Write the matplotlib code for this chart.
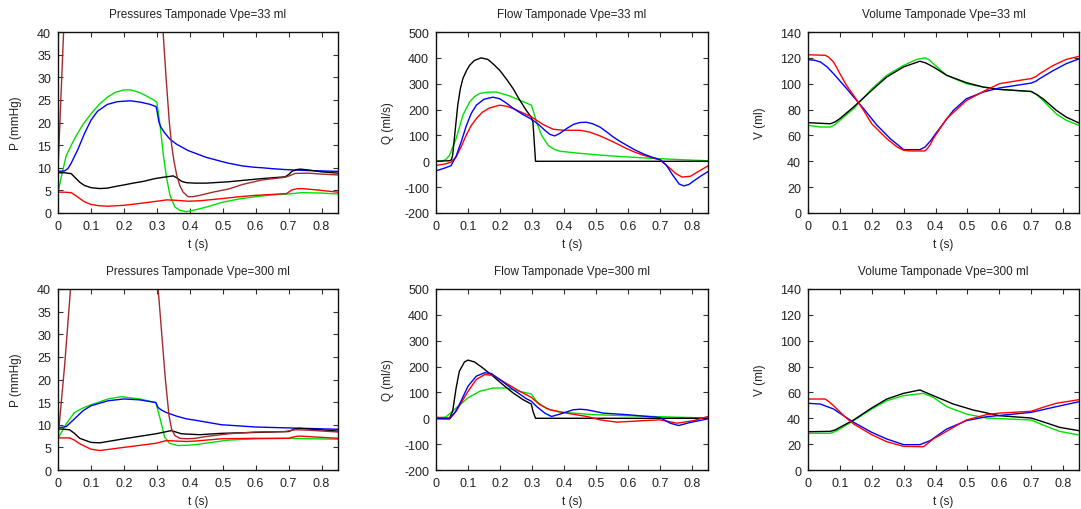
import matplotlib
matplotlib.use("Agg")
import matplotlib.pyplot as plt

plt.rcParams['font.family'] = ['Liberation Sans', 'DejaVu Sans']
plt.rcParams['axes.unicode_minus'] = False

# ---------------- data ----------------
t_ticks = [0, 0.1, 0.2, 0.3, 0.4, 0.5, 0.6, 0.7, 0.8]
t_tick_labels = ["0", "0.1", "0.2", "0.3", "0.4", "0.5", "0.6", "0.7", "0.8"]
p_ticks = [0, 5, 10, 15, 20, 25, 30, 35, 40]
q_ticks = [-200, -100, 0, 100, 200, 300, 400, 500]
v_ticks = [0, 20, 40, 60, 80, 100, 120, 140]

titles = ["Pressures Tamponade Vpe=33 ml", "Flow Tamponade Vpe=33 ml", "Volume Tamponade Vpe=33 ml",
          "Pressures Tamponade Vpe=300 ml", "Flow Tamponade Vpe=300 ml", "Volume Tamponade Vpe=300 ml"]
ylabels = ["P (mmHg)", "Q (ml/s)", "V (ml)"]

# ---- Pressures, Vpe = 33 ml ----
p33_brown_t = [0, 0.008, 0.017, 0.03, 0.06, 0.1, 0.15, 0.2, 0.25, 0.29, 0.305, 0.319, 0.328, 0.338, 0.345, 0.352,
               0.36, 0.37, 0.38, 0.395, 0.41, 0.43, 0.47, 0.518, 0.56, 0.619, 0.69, 0.705, 0.72, 0.76, 0.8, 0.85]
p33_brown_v = [9.5, 24, 40, 60, 90, 110, 118, 116, 105, 80, 58, 40, 30, 20, 15, 11.5,
               8.5, 6, 4.6, 3.6, 3.6, 3.9, 4.6, 5.3, 6.3, 7.3, 7.9, 8.3, 8.75, 8.8, 8.6, 8.4]

p33_blue_t = [0, 0.02, 0.03, 0.04, 0.06, 0.08, 0.1, 0.12, 0.15, 0.18, 0.22, 0.25, 0.28, 0.298, 0.302, 0.306, 0.312,
              0.325, 0.34, 0.36, 0.395, 0.417, 0.45, 0.496, 0.518, 0.56, 0.597, 0.619, 0.65, 0.69, 0.75, 0.8, 0.85]
p33_blue_v = [9.2, 9.3, 9.8, 11, 14, 17.5, 20.5, 22.5, 24.0, 24.6, 24.8, 24.5, 24.0, 23.5, 22, 20.2, 19.0,
              17.6, 16.3, 15.2, 13.8, 13.2, 12.3, 11.4, 11.0, 10.4, 10.1, 10.0, 9.8, 9.6, 9.4, 9.3, 9.2]

p33_green_t = [0, 0.01, 0.025, 0.05, 0.075, 0.1, 0.125, 0.15, 0.175, 0.2, 0.22, 0.245, 0.27, 0.29, 0.3,
               0.305, 0.31, 0.32, 0.33, 0.34, 0.355, 0.37, 0.39, 0.417, 0.45, 0.5, 0.55, 0.6, 0.65, 0.7, 0.74, 0.8, 0.85]
p33_green_v = [4.5, 8, 12.7, 16.4, 19.5, 21.9, 24, 25.6, 26.7, 27.2, 27.2, 26.7, 25.8, 25.0, 24.5,
               22, 19.3, 12.7, 7.6, 3.9, 1.3, 0.6, 0.3, 0.7, 1.3, 2.4, 3.1, 3.6, 4.0, 4.2, 4.5, 4.4, 4.2]

p33_black_t = [0, 0.02, 0.04, 0.055, 0.066, 0.08, 0.1, 0.127, 0.15, 0.177, 0.2, 0.228, 0.26, 0.294, 0.32, 0.35,
               0.362, 0.375, 0.39, 0.417, 0.45, 0.518, 0.56, 0.619, 0.69, 0.7, 0.71, 0.725, 0.736, 0.761, 0.8, 0.85]
p33_black_v = [8.9, 8.9, 8.7, 7.6, 6.8, 6.1, 5.6, 5.4, 5.5, 5.9, 6.2, 6.6, 7.0, 7.6, 7.9, 8.2,
               7.7, 7.0, 6.7, 6.6, 6.6, 6.9, 7.2, 7.6, 8.0, 8.5, 9.2, 9.6, 9.7, 9.5, 9.1, 8.8]

p33_red_t = [0, 0.02, 0.04, 0.055, 0.066, 0.08, 0.1, 0.125, 0.15, 0.2, 0.258, 0.3, 0.33, 0.36, 0.395, 0.43,
             0.5, 0.55, 0.6, 0.65, 0.694, 0.7, 0.71, 0.725, 0.74, 0.785, 0.85]
p33_red_v = [4.6, 4.6, 4.5, 3.8, 3.2, 2.5, 1.9, 1.6, 1.5, 1.7, 2.2, 2.6, 2.9, 2.8, 2.6, 2.7,
             3.2, 3.6, 3.9, 4.1, 4.3, 4.6, 5.1, 5.35, 5.4, 5.1, 4.6]

# ---- Flow, Vpe = 33 ml ----
q33_black_t = [0, 0.04, 0.048, 0.052, 0.06, 0.068, 0.076, 0.084, 0.095, 0.105, 0.12, 0.141, 0.162, 0.18,
               0.199, 0.22, 0.241, 0.26, 0.282, 0.298, 0.303, 0.311, 0.85]
q33_black_v = [0, 2, 5, 23, 120, 217, 280, 320, 350, 371, 390, 400, 394, 375,
               352, 318, 281, 240, 197, 170, 150, 0, 0]

q33_green_t = [0, 0.02, 0.03, 0.042, 0.063, 0.084, 0.105, 0.12, 0.136, 0.16, 0.188, 0.225, 0.262, 0.298,
               0.305, 0.314, 0.33, 0.35, 0.37, 0.387, 0.439, 0.544, 0.649, 0.753, 0.85]
q33_green_v = [0, 2, 6, 23, 88, 178, 229, 250, 262, 267, 268, 255, 236, 217,
               190, 152, 101, 62, 46, 39, 32, 21, 13, 7, 2]

q33_blue_t = [0, 0.03, 0.047, 0.063, 0.08, 0.094, 0.11, 0.126, 0.15, 0.178, 0.199, 0.22, 0.241, 0.27, 0.298,
              0.32, 0.34, 0.356, 0.371, 0.387, 0.41, 0.43, 0.45, 0.47, 0.49, 0.513, 0.535, 0.554, 0.575, 0.596,
              0.62, 0.649, 0.675, 0.701, 0.72, 0.74, 0.76, 0.774, 0.79, 0.81, 0.83, 0.85]
q33_blue_v = [-37, -25, -17, 20, 80, 135, 185, 217, 240, 248, 242, 225, 205, 182, 163,
              143, 120, 104, 98, 108, 128, 143, 150, 151, 145, 132, 112, 94, 77, 62,
              45, 28, 16, 6, -15, -54, -88, -95, -90, -72, -55, -40]

q33_red_t = [0, 0.03, 0.047, 0.063, 0.08, 0.094, 0.11, 0.126, 0.145, 0.167, 0.199, 0.22, 0.241, 0.27, 0.298,
             0.335, 0.366, 0.397, 0.45, 0.48, 0.513, 0.554, 0.596, 0.62, 0.649, 0.7, 0.732, 0.75, 0.769, 0.795,
             0.826, 0.85]
q33_red_v = [-16, -10, -3, 17, 60, 100, 138, 165, 190, 206, 217, 213, 204, 188, 172,
             142, 124, 120, 120, 113, 98, 75, 49, 36, 23, 5, -28, -48, -61, -58,
             -35, -18]

# ---- Volume, Vpe = 33 ml ----
v33_red_t = [0, 0.054, 0.065, 0.08, 0.09, 0.1, 0.12, 0.143, 0.174, 0.2, 0.247, 0.28, 0.3, 0.32, 0.367, 0.375,
             0.385, 0.393, 0.435, 0.497, 0.55, 0.6, 0.664, 0.7, 0.715, 0.727, 0.768, 0.81, 0.85]
v33_red_v = [122.4, 122, 120.5, 116.8, 112.5, 107.8, 99, 91, 79.5, 69, 57.5, 51, 48.5, 48, 48, 50,
             53.5, 57.5, 73, 87, 94, 100, 102.6, 104, 105.5, 107.8, 114, 118.8, 121.2]

v33_blue_t = [0, 0.02, 0.039, 0.06, 0.08, 0.122, 0.174, 0.216, 0.258, 0.3, 0.351, 0.367, 0.385, 0.404, 0.456,
              0.497, 0.55, 0.6, 0.7, 0.715, 0.727, 0.768, 0.81, 0.85]
v33_blue_v = [118.6, 118.2, 116.8, 113, 107.8, 96, 80.8, 68, 57.5, 49, 49, 51, 56, 62.6, 79.4,
              88.4, 93.6, 96.7, 100.5, 102, 104, 110, 115.5, 119.2]

v33_green_t = [0, 0.039, 0.07, 0.085, 0.1, 0.143, 0.2, 0.247, 0.3, 0.341, 0.367, 0.38, 0.393, 0.435, 0.497,
               0.55, 0.6, 0.7, 0.718, 0.737, 0.779, 0.81, 0.85]
v33_green_v = [67.8, 66.5, 66.5, 68.5, 71.7, 80.7, 96, 106.5, 114.2, 118.8, 120, 118.5, 115.5, 106.5, 100,
               97.4, 95.6, 94, 91.5, 87, 76.6, 71.7, 67.8]

v33_black_t = [0, 0.07, 0.085, 0.1, 0.143, 0.2, 0.247, 0.3, 0.351, 0.37, 0.393, 0.435, 0.497, 0.55, 0.6, 0.7,
               0.718, 0.737, 0.779, 0.81, 0.85]
v33_black_v = [69.9, 69, 70.5, 73, 82, 94.9, 105.2, 113, 117.4, 116, 113, 106.5, 100.8, 97.4, 95.6, 94,
               91.5, 88.4, 79.4, 74.2, 69.6]

# ---- Pressures, Vpe = 300 ml ----
p300_brown_t = [0, 0.02, 0.038, 0.06, 0.1, 0.15, 0.2, 0.25, 0.28, 0.295, 0.304, 0.315, 0.326, 0.337, 0.345,
                0.355, 0.37, 0.39, 0.417, 0.45, 0.518, 0.6, 0.69, 0.72, 0.76, 0.85]
p300_brown_v = [7, 23, 40, 58, 80, 92, 94, 88, 70, 52, 40, 30, 20, 12, 9,
                7.6, 7.0, 6.9, 7.0, 7.4, 8.0, 8.4, 8.5, 8.9, 8.8, 8.4]

p300_blue_t = [0, 0.025, 0.05, 0.076, 0.1, 0.152, 0.2, 0.248, 0.297, 0.304, 0.315, 0.329, 0.36, 0.39,
               0.417, 0.496, 0.518, 0.6, 0.7, 0.85]
p300_blue_v = [9.3, 9.6, 11.3, 13.1, 14.2, 15.3, 15.7, 15.5, 14.9, 13.8, 13.2, 12.7, 11.9, 11.3,
               11.0, 10.0, 9.9, 9.5, 9.3, 9.0]

p300_green_t = [0, 0.025, 0.05, 0.076, 0.1, 0.152, 0.192, 0.248, 0.297, 0.309, 0.324, 0.339, 0.364, 0.4,
                0.417, 0.496, 0.518, 0.6, 0.7, 0.85]
p300_green_v = [7, 10.2, 12.7, 13.7, 14.4, 15.7, 16.2, 15.7, 14.9, 11.6, 7.2, 5.9, 5.4, 5.5,
                5.6, 6.4, 6.6, 6.9, 7.0, 6.8]

p300_black_t = [0, 0.035, 0.05, 0.066, 0.1, 0.127, 0.2, 0.297, 0.344, 0.375, 0.43, 0.496, 0.597, 0.7, 0.72,
                0.734, 0.85]
p300_black_v = [9.1, 8.9, 8.1, 7.0, 6.1, 6.0, 6.9, 8.0, 8.7, 8.0, 7.8, 8.1, 8.3, 8.5, 9.1,
                9.2, 8.6]

p300_red_t = [0, 0.035, 0.05, 0.066, 0.1, 0.127, 0.2, 0.297, 0.329, 0.39, 0.417, 0.496, 0.597, 0.7, 0.72,
              0.734, 0.85]
p300_red_v = [7.1, 7.1, 6.6, 5.8, 4.6, 4.3, 5.0, 5.9, 6.5, 6.3, 6.4, 6.9, 7.0, 7.0, 7.4,
              7.5, 7.0]

# ---- Flow, Vpe = 300 ml ----
q300_black_t = [0, 0.042, 0.052, 0.063, 0.073, 0.089, 0.1, 0.12, 0.146, 0.178, 0.209, 0.241, 0.272, 0.298,
                0.303, 0.311, 0.85]
q300_black_v = [0, 0, 27, 118, 182, 218, 225, 218, 195, 163, 130, 98, 72, 55,
                27, 0, 0]

q300_blue_t = [0, 0.042, 0.058, 0.073, 0.1, 0.126, 0.152, 0.173, 0.199, 0.241, 0.282, 0.298, 0.314, 0.34,
               0.361, 0.387, 0.429, 0.45, 0.471, 0.523, 0.596, 0.7, 0.732, 0.758, 0.795, 0.85]
q300_blue_v = [-2, -3, 20, 53, 124, 163, 176, 173, 150, 111, 76, 66, 46, 20,
               7, 16, 33, 35, 33, 20, 14, 3, -19, -28, -16, -2]

q300_red_t = [0, 0.042, 0.063, 0.1, 0.126, 0.152, 0.178, 0.209, 0.262, 0.298, 0.324, 0.356, 0.408, 0.471,
              0.513, 0.565, 0.649, 0.7, 0.753, 0.805, 0.85]
q300_red_v = [4, 1, 27, 104, 150, 169, 166, 143, 104, 81, 53, 33, 20, 7,
              -6, -15, -9, -6, -19, -9, 7]

q300_green_t = [0, 0.031, 0.063, 0.1, 0.136, 0.178, 0.22, 0.262, 0.298, 0.314, 0.345, 0.387, 0.492, 0.596,
                0.7, 0.85]
q300_green_v = [1, 5, 40, 79, 104, 117, 117, 104, 94, 66, 37, 24, 14, 10,
                6, 1]

# ---- Volume, Vpe = 300 ml ----
v300_red_t = [0, 0.054, 0.065, 0.08, 0.112, 0.143, 0.2, 0.247, 0.3, 0.362, 0.375, 0.393, 0.456, 0.497, 0.56,
              0.6, 0.7, 0.737, 0.779, 0.85]
v300_red_v = [54.9, 54.9, 53, 49.8, 42, 35.6, 27.3, 21.9, 18.3, 18, 20.5, 24, 33, 38.7, 42.8,
              44, 45.4, 48.5, 51.6, 54.4]

v300_blue_t = [0, 0.039, 0.08, 0.143, 0.2, 0.247, 0.3, 0.351, 0.383, 0.435, 0.497, 0.56, 0.7, 0.779, 0.85]
v300_blue_v = [51.6, 51, 47.2, 36.9, 29.1, 24, 19.6, 19.6, 22.7, 31.7, 38.2, 41.2, 44.6, 49, 52.8]

v300_green_t = [0, 0.07, 0.085, 0.1, 0.143, 0.2, 0.247, 0.3, 0.362, 0.393, 0.435, 0.497, 0.56, 0.7, 0.742,
                0.789, 0.85]
v300_green_v = [28.4, 28.4, 29.8, 31.7, 38.2, 47.2, 53.6, 57.5, 59.3, 56.2, 49, 43.3, 40.2, 38.7, 34.3,
                29.9, 27.1]

v300_black_t = [0, 0.07, 0.085, 0.1, 0.143, 0.2, 0.247, 0.3, 0.351, 0.393, 0.456, 0.518, 0.6, 0.7, 0.742,
                0.789, 0.85]
v300_black_v = [29.6, 29.9, 31, 33, 38.7, 48, 54.9, 59.3, 61.9, 57.5, 51, 46.4, 42, 40.2, 36.9,
                33, 30.4]

colors = {"brown": "#a52a2a", "blue": "#0000ff", "green": "#00e000", "black": "#000000", "red": "#ff0000"}

panels = [
    [("green", p33_green_t, p33_green_v), ("blue", p33_blue_t, p33_blue_v), ("black", p33_black_t, p33_black_v),
     ("red", p33_red_t, p33_red_v), ("brown", p33_brown_t, p33_brown_v)],
    [("green", q33_green_t, q33_green_v), ("black", q33_black_t, q33_black_v), ("red", q33_red_t, q33_red_v),
     ("blue", q33_blue_t, q33_blue_v)],
    [("green", v33_green_t, v33_green_v), ("black", v33_black_t, v33_black_v), ("blue", v33_blue_t, v33_blue_v),
     ("red", v33_red_t, v33_red_v)],
    [("green", p300_green_t, p300_green_v), ("blue", p300_blue_t, p300_blue_v),
     ("black", p300_black_t, p300_black_v), ("red", p300_red_t, p300_red_v),
     ("brown", p300_brown_t, p300_brown_v)],
    [("green", q300_green_t, q300_green_v), ("black", q300_black_t, q300_black_v),
     ("red", q300_red_t, q300_red_v), ("blue", q300_blue_t, q300_blue_v)],
    [("green", v300_green_t, v300_green_v), ("black", v300_black_t, v300_black_v),
     ("blue", v300_blue_t, v300_blue_v), ("red", v300_red_t, v300_red_v)],
]

yticks_list = [p_ticks, q_ticks, v_ticks]
ylims = [(0, 40), (-200, 500), (0, 140)]

# ---------------- layout ----------------
W, H = 1081, 510
fig = plt.figure(figsize=(W / 100, H / 100), dpi=100)

col_lr = [(58, 338), (436, 708), (808, 1079)]
row_tb = [(33, 214), (290, 471)]
ylab_x = [16, 388, 760]

for i, series in enumerate(panels):
    r, c = divmod(i, 3)
    l, rr = col_lr[c]
    t, b = row_tb[r]
    ax = fig.add_axes([l / W, 1 - b / H, (rr - l) / W, (b - t) / H])
    for name, tx, vy in series:
        ax.plot(tx, vy, color=colors[name], lw=1.0, solid_joinstyle='round')
    ax.set_xlim(0, 0.85)
    ax.set_ylim(*ylims[c])
    ax.set_xticks(t_ticks)
    ax.set_xticklabels(t_tick_labels)
    ax.set_yticks(yticks_list[c])
    ax.tick_params(direction='in', top=True, right=True, length=3.5, width=0.8,
                   labelsize=9, pad=5, colors='#333333', labelcolor='#222222')
    for s in ax.spines.values():
        s.set_linewidth(1.0)
        s.set_color('#111111')
    ax.text(0.5, 1 + 18 / (b - t), titles[i], transform=ax.transAxes,
            ha='center', va='center', fontsize=8.5, color='#222222')
    ax.set_xlabel("t (s)", fontsize=8.5, color='#222222')
    ax.xaxis.set_label_coords(0.5, -31 / (b - t))
    ax.set_ylabel(ylabels[c], fontsize=8.5, color='#222222')
    ax.yaxis.set_label_coords((ylab_x[c] - l) / (rr - l), 0.5)
    ax.xaxis.label.set_va('center')
    ax.yaxis.label.set_va('center')

fig.savefig("out.png", dpi=100)
